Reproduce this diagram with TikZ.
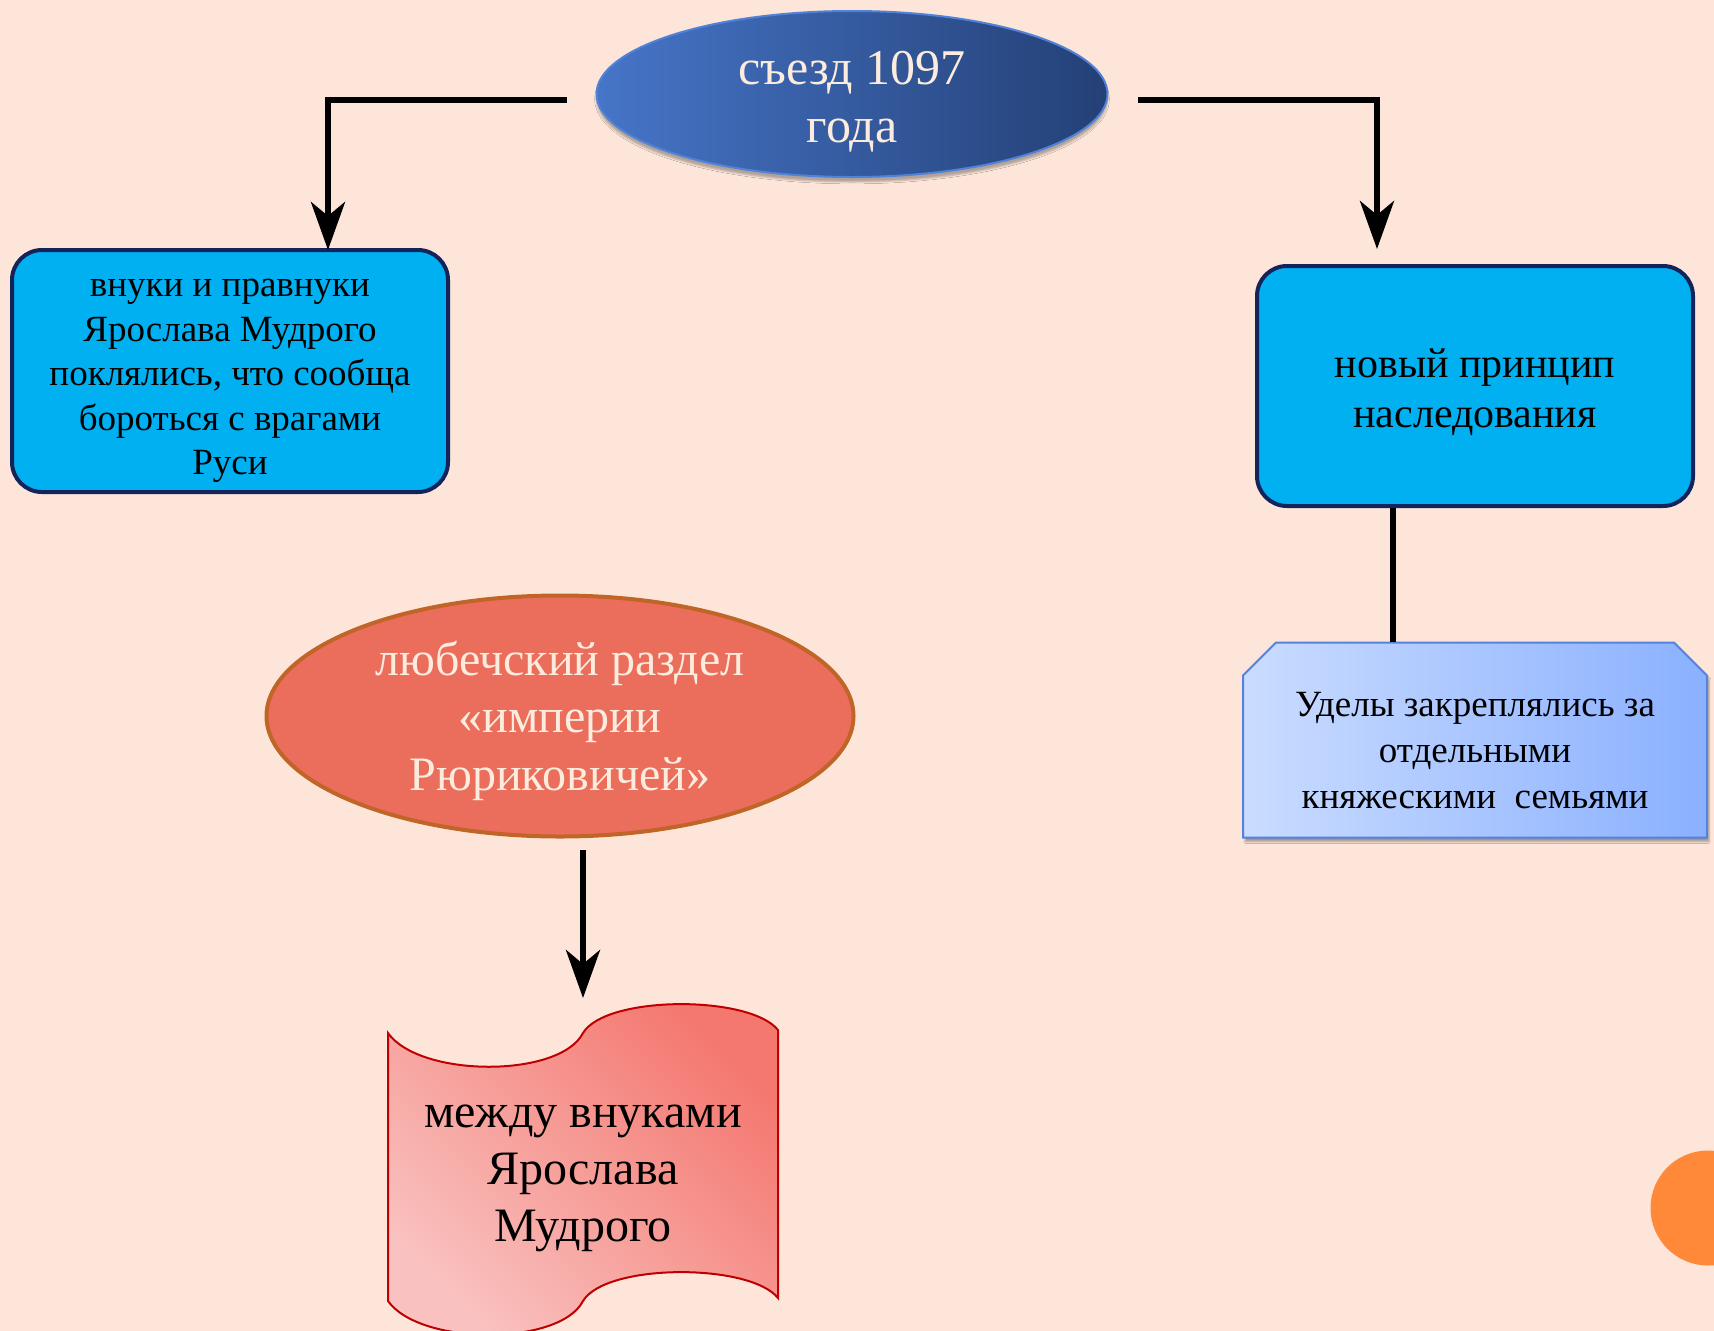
\documentclass[tikz,border=0pt]{standalone}
\usepackage{fontspec}
\setmainfont{Liberation Serif}
\usetikzlibrary{shapes.geometric,shapes.misc,arrows.meta,shadows.blur}
\definecolor{bgpeach}{RGB}{253,230,217}
\definecolor{topblue}{RGB}{70,117,200}
\definecolor{topdark}{RGB}{36,64,118}
\definecolor{topedge}{RGB}{80,130,215}
\definecolor{cream}{RGB}{252,236,222}
\definecolor{boxcyan}{RGB}{0,176,240}
\definecolor{boxnavy}{RGB}{20,36,90}
\definecolor{udlight}{RGB}{202,220,255}
\definecolor{uddark}{RGB}{138,176,255}
\definecolor{udedge}{RGB}{84,130,220}
\definecolor{razfill}{RGB}{235,110,92}
\definecolor{razedge}{RGB}{192,100,40}
\definecolor{wavelight}{RGB}{249,194,192}
\definecolor{wavedark}{RGB}{244,120,112}
\definecolor{waveedge}{RGB}{192,0,0}
\definecolor{dotorange}{RGB}{255,137,56}
\begin{document}
\begin{tikzpicture}[x=1pt,y=-1pt]
				\tikzstyle{Oval} = [ellipse, inner sep=0pt, align=center]
				\tikzstyle{Box} = [rectangle, rounded corners=30pt, draw=boxnavy, line width=4pt, fill=boxcyan, align=center, inner sep=0pt]
				\tikzstyle{Arrow} = [line width=6pt, -{Stealth[length=48pt, width=34pt, inset=14pt]}]
				\fill [bgpeach] (0,0) rectangle (1714,1331);
				\useasboundingbox (0,0) rectangle (1714,1331);
				\fill [dotorange] (1708,1208) circle (57.5);
				\node (S) at (852,94) [Oval, minimum width=511, minimum height=166, draw=topedge, line width=2pt, left color=topblue, right color=topdark, text=cream, font=\fontsize{50}{58}\selectfont, blur shadow={shadow xshift=0pt, shadow yshift=-5pt, shadow opacity=30}] {\\[-9pt]съезд 1097\\года};
				\node (O) at (230,371) [Box, minimum width=436, minimum height=242, font=\fontsize{37}{44.5}\selectfont] {\\[-7.5pt]внуки и правнуки\\Ярослава Мудрого\\поклялись, что сообща\\бороться с врагами\\Руси};
				\node (P) at (1475,386) [Box, minimum width=436, minimum height=240, font=\fontsize{42}{50}\selectfont] {\\[-8.5pt]новый принцип\\наследования};
				\node (U) at (1475,740) [chamfered rectangle, chamfered rectangle corners={north west,north east}, chamfered rectangle xsep=16.5pt, chamfered rectangle ysep=16.5pt, minimum width=464, minimum height=195, inner sep=0pt, draw=udedge, line width=2pt, left color=udlight, right color=uddark, align=center, font=\fontsize{37}{46}\selectfont, blur shadow={shadow xshift=2pt, shadow yshift=-4pt, shadow opacity=35}] {\\[-1pt]Уделы закреплялись за\\отдельными\\княжескими\ \ семьями};
				\node (R) at (560,716) [Oval, minimum width=587, minimum height=241, draw=razedge, line width=4pt, fill=razfill, text=cream, font=\fontsize{48}{57.5}\selectfont] {\\[-13.5pt]любечский раздел\\«империи\\Рюриковичей»};
				% wave banner
				\shade [top color=wavedark, bottom color=wavelight, shading angle=-45, draw=waveedge, line width=2pt] (388,1033) .. controls (420,1078) and (560,1078) .. (583,1033) .. controls (606,995) and (750,995) .. (778,1030) -- (778,1298) .. controls (750,1263) and (606,1263) .. (583,1301) .. controls (560,1346) and (420,1346) .. (388,1301) -- cycle;
				\node (W) at (583,1169) [align=center, font=\fontsize{48}{57}\selectfont] {\\[-15pt]между внуками\\Ярослава\\Мудрого};
				\coordinate (sL) at (567,100);
				\coordinate (sR) at (1138,100);
				\coordinate (oT) at (328,250);
				\coordinate (pT) at (1377,249);
				\coordinate (rB) at (583,850);
				\coordinate (wT) at (583,998);
				\draw [Arrow] (sL) -| (oT);
				\draw [Arrow] (sR) -| (pT);
				\draw [line width=6pt] ([xshift=-82pt]P.south) -- ([xshift=-82pt]U.north);
				\draw [Arrow] (rB) -- (wT);
			\end{tikzpicture}
\end{document}
